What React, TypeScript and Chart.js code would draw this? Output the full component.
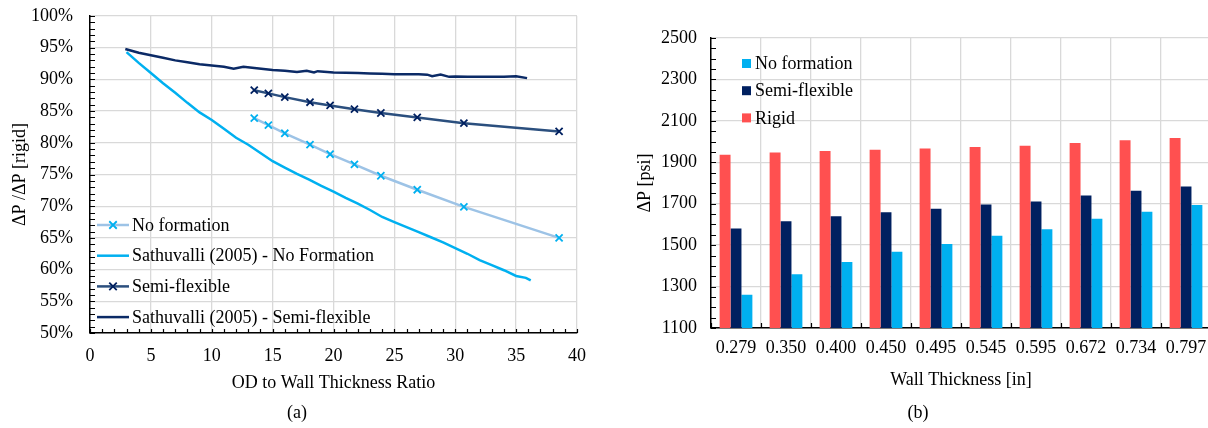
import React, { useEffect, useRef } from "react";
import { Chart, registerables } from "chart.js";

Chart.register(...registerables);

const FONT = '"Liberation Serif", "Times New Roman", serif';

// ---------- Chart (a) data ----------
const odRatio = [13.49, 14.65, 16.0, 18.07, 19.72, 21.72, 23.89, 26.88, 30.71, 38.53];
const noFormationPct = [83.9, 82.8, 81.5, 79.7, 78.2, 76.6, 74.8, 72.6, 69.9, 65.0];
const semiFlexPct = [88.3, 87.8, 87.2, 86.4, 85.9, 85.3, 84.7, 84.0, 83.1, 81.8];

const sathNoFormX = [3.0, 4, 5, 6, 7, 8, 9, 10, 11, 12, 13, 14, 15, 16, 17, 18, 19, 20, 21, 22, 23, 24, 25, 26, 27, 28, 29, 30, 31, 32, 33, 34, 35, 35.8, 36.2];
const sathNoFormY = [94.3, 92.6, 91.0, 89.4, 87.9, 86.3, 84.8, 83.6, 82.2, 80.8, 79.7, 78.4, 77.1, 76.1, 75.1, 74.2, 73.2, 72.3, 71.3, 70.4, 69.4, 68.3, 67.5, 66.7, 65.9, 65.1, 64.3, 63.4, 62.5, 61.5, 60.7, 59.9, 59.0, 58.7, 58.3];

const sathSemiX = [2.9, 4, 5, 6, 7, 8, 9, 10, 11, 11.8, 12.6, 13.5, 15, 16, 17, 17.8, 18.4, 18.7, 20, 21, 22, 23, 24, 25, 26, 27, 27.7, 28.1, 28.8, 29.5, 30, 31, 32, 33, 34, 35, 35.9];
const sathSemiY = [94.8, 94.2, 93.8, 93.4, 93.0, 92.7, 92.4, 92.2, 92.0, 91.7, 92.0, 91.8, 91.5, 91.35, 91.15, 91.35, 91.1, 91.3, 91.1, 91.05, 91.0, 90.95, 90.9, 90.8, 90.8, 90.8, 90.75, 90.5, 90.75, 90.4, 90.45, 90.4, 90.4, 90.4, 90.4, 90.5, 90.2];

const labelsA = [
  "No formation",
  "Sathuvalli (2005) - No Formation",
  "Semi-flexible",
  "Sathuvalli (2005) - Semi-flexible",
];

// ---------- Chart (b) data ----------
const wallThickness = ["0.279", "0.350", "0.400", "0.450", "0.495", "0.545", "0.595", "0.672", "0.734", "0.797"];
const rigidPsi = [1936, 1947, 1954, 1960, 1967, 1974, 1980, 1993, 2006, 2017];
const semiFlexPsi = [1580, 1615, 1639, 1659, 1676, 1696, 1711, 1740, 1763, 1783];
const noFormationPsi = [1260, 1359, 1419, 1468, 1505, 1545, 1577, 1627, 1661, 1694];

const GRID = "#d9d9d9";

function toPoints(xs: number[], ys: number[]) {
  return xs.map((x, i) => ({ x, y: ys[i] }));
}

// Legend drawn inside the plot area
const insideLegend = {
  id: "insideLegend",
  afterDraw(chart: any, _args: any, opts: any) {
    if (!opts || !opts.order) return;
    const ctx = chart.ctx;
    ctx.save();
    ctx.font = `${opts.fontSize}px ${FONT}`;
    ctx.textBaseline = "middle";
    opts.order.forEach((idx: number, i: number) => {
      const ds = chart.data.datasets[idx];
      const y = opts.y + i * opts.rowHeight;
      if (opts.kind === "line") {
        ctx.strokeStyle = ds.borderColor;
        ctx.lineWidth = ds.borderWidth;
        ctx.beginPath();
        ctx.moveTo(opts.x, y);
        ctx.lineTo(opts.x + opts.sampleWidth, y);
        ctx.stroke();
        if (ds.pointRadius > 0) {
          const cx = opts.x + opts.sampleWidth / 2;
          const r = ds.pointRadius * 0.75;
          ctx.strokeStyle = ds.pointBorderColor;
          ctx.lineWidth = ds.pointBorderWidth;
          ctx.beginPath();
          ctx.moveTo(cx - r, y - r);
          ctx.lineTo(cx + r, y + r);
          ctx.moveTo(cx - r, y + r);
          ctx.lineTo(cx + r, y - r);
          ctx.stroke();
        }
        ctx.fillStyle = "#000";
        ctx.fillText(ds.label, opts.x + opts.sampleWidth + opts.gap, y + 1);
      } else {
        ctx.fillStyle = ds.backgroundColor;
        const s = opts.box;
        ctx.fillRect(opts.x, y - s / 2, s, s);
        ctx.fillStyle = "#000";
        ctx.fillText(ds.label, opts.x + s + opts.gap, y + 1);
      }
    });
    ctx.restore();
  },
};

// Inward tick marks (major + minor)
const inwardTicks = {
  id: "inwardTicks",
  afterDraw(chart: any, _args: any, opts: any) {
    if (!opts || !opts.specs) return;
    const ctx = chart.ctx;
    const area = chart.chartArea;
    ctx.save();
    ctx.strokeStyle = "#000";
    ctx.lineWidth = 1.2;
    opts.specs.forEach((spec: any) => {
      const scale = chart.scales[spec.id];
      ctx.beginPath();
      if (spec.categoryBounds) {
        const n = scale.getLabels().length;
        for (let i = 0; i <= n; i++) {
          const x = Math.round(scale.getPixelForValue(i - 0.5)) + 0.5;
          ctx.moveTo(x, area.bottom);
          ctx.lineTo(x, area.bottom - spec.len);
        }
      } else {
        const steps = Math.round((scale.max - scale.min) / spec.step);
        for (let k = 0; k <= steps; k++) {
          const v = scale.min + k * spec.step;
          const p = Math.round(scale.getPixelForValue(v)) + 0.5;
          if (spec.axis === "y") {
            ctx.moveTo(area.left, p);
            ctx.lineTo(area.left + spec.len, p);
          } else {
            ctx.moveTo(p, area.bottom);
            ctx.lineTo(p, area.bottom - spec.len);
          }
        }
      }
      ctx.stroke();
    });
    ctx.restore();
  },
};

export default function App() {
  const refA = useRef<HTMLCanvasElement>(null);
  const refB = useRef<HTMLCanvasElement>(null);

  useEffect(() => {
    const tickFont = { family: FONT, size: 18 };

    const chartA = new Chart(refA.current as HTMLCanvasElement, {
      type: "line",
      data: {
        datasets: [
          {
            label: labelsA[0],
            data: toPoints(odRatio, noFormationPct),
            borderColor: "#9dc3e6",
            borderWidth: 2.5,
            pointStyle: "crossRot",
            pointRadius: 5,
            pointBorderColor: "#00b0f0",
            pointBorderWidth: 1.8,
            tension: 0,
          },
          {
            label: labelsA[1],
            data: toPoints(sathNoFormX, sathNoFormY),
            borderColor: "#00b0f0",
            borderWidth: 2.5,
            pointRadius: 0,
            tension: 0,
          },
          {
            label: labelsA[2],
            data: toPoints(odRatio, semiFlexPct),
            borderColor: "#2b4f7e",
            borderWidth: 2.5,
            pointStyle: "crossRot",
            pointRadius: 5,
            pointBorderColor: "#002060",
            pointBorderWidth: 1.8,
            tension: 0,
          },
          {
            label: labelsA[3],
            data: toPoints(sathSemiX, sathSemiY),
            borderColor: "#0b2a66",
            borderWidth: 2.5,
            pointRadius: 0,
            tension: 0,
          },
        ] as any,
      },
      options: {
        responsive: false,
        animation: false,
        layout: { autoPadding: false, padding: { left: 0, right: 23, top: 16, bottom: 0 } },
        plugins: {
          legend: { display: false },
          tooltip: { enabled: false },
          insideLegend: {
            kind: "line",
            order: [0, 1, 2, 3],
            x: 97,
            y: 225,
            rowHeight: 30.7,
            sampleWidth: 32,
            gap: 3,
            fontSize: 18,
          },
          inwardTicks: {
            specs: [
              { id: "y", axis: "y", step: 1, len: 5 },
              { id: "x", axis: "x", step: 1, len: 4 },
            ],
          },
        } as any,
        scales: {
          x: {
            type: "linear",
            min: 0,
            max: 40,
            ticks: { stepSize: 5, font: tickFont, color: "#000", padding: 12, maxRotation: 0 },
            grid: { color: GRID, lineWidth: 1.3, drawTicks: false },
            border: { color: "#000", width: 1.5 },
            title: {
              display: true,
              text: "OD to Wall Thickness Ratio",
              font: tickFont,
              color: "#000",
              padding: { top: 0, bottom: 34 },
            },
            afterFit: (s: any) => {
              s.height = 95;
            },
          },
          y: {
            type: "linear",
            min: 50,
            max: 100,
            ticks: {
              stepSize: 5,
              font: tickFont,
              color: "#000",
              padding: 17,
              callback: (v: any) => v + "%",
            },
            grid: { color: GRID, lineWidth: 1.3, drawTicks: false },
            border: { color: "#000", width: 1.5 },
            title: {
              display: true,
              text: "ΔP /ΔP [rigid]",
              font: tickFont,
              color: "#000",
              padding: { top: 9, bottom: 0 },
            },
            afterFit: (s: any) => {
              s.width = 90;
              s.paddingTop = 0;
              s.paddingBottom = 0;
            },
          },
        },
      } as any,
      plugins: [insideLegend, inwardTicks],
    });

    const chartB = new Chart(refB.current as HTMLCanvasElement, {
      type: "bar",
      data: {
        labels: wallThickness,
        datasets: [
          { label: "Rigid", data: rigidPsi, backgroundColor: "#ff5050" },
          { label: "Semi-flexible", data: semiFlexPsi, backgroundColor: "#002060" },
          { label: "No formation", data: noFormationPsi, backgroundColor: "#00b0f0" },
        ],
      },
      options: {
        responsive: false,
        animation: false,
        datasets: { bar: { categoryPercentage: 0.655, barPercentage: 1.0 } },
        layout: { autoPadding: false, padding: { left: 0, right: 9, top: 38, bottom: 0 } },
        plugins: {
          legend: { display: false },
          tooltip: { enabled: false },
          insideLegend: {
            kind: "box",
            order: [2, 1, 0],
            x: 142,
            y: 63.5,
            rowHeight: 27.2,
            box: 9,
            gap: 4,
            fontSize: 18,
          },
          inwardTicks: {
            specs: [
              { id: "y", axis: "y", step: 50, len: 5 },
              { id: "x", categoryBounds: true, len: 5 },
            ],
          },
        } as any,
        scales: {
          x: {
            type: "category",
            offset: true,
            ticks: { font: tickFont, color: "#000", padding: 9, autoSkip: false, maxRotation: 0 },
            grid: { color: GRID, lineWidth: 1.3, drawTicks: false, offset: true },
            border: { color: "#000", width: 1.5 },
            title: {
              display: true,
              text: "Wall Thickness [in]",
              font: tickFont,
              color: "#000",
              padding: { top: 0, bottom: 37 },
            },
            afterFit: (s: any) => {
              s.height = 100;
            },
          },
          y: {
            type: "linear",
            min: 1100,
            max: 2500,
            ticks: {
              stepSize: 200,
              font: tickFont,
              color: "#000",
              padding: 14,
              callback: (v: any) => String(v),
            },
            grid: { color: GRID, lineWidth: 1.3, drawTicks: false },
            border: { color: "#000", width: 1.5 },
            title: {
              display: true,
              text: "ΔP [psi]",
              font: tickFont,
              color: "#000",
              padding: { top: 34, bottom: 0 },
            },
            afterFit: (s: any) => {
              s.width = 111;
              s.paddingTop = 0;
              s.paddingBottom = 0;
            },
          },
        },
      } as any,
      plugins: [insideLegend, inwardTicks],
    });

    return () => {
      chartA.destroy();
      chartB.destroy();
    };
  }, []);

  const caption: React.CSSProperties = {
    position: "absolute",
    top: 402,
    width: 200,
    textAlign: "center",
    fontFamily: FONT,
    fontSize: 18,
    lineHeight: "20px",
    color: "#000",
  };

  return (
    <div
      style={{
        position: "fixed",
        left: 0,
        top: 0,
        width: 1208,
        height: 428,
        overflow: "hidden",
        background: "#fff",
      }}
    >
      <canvas
        ref={refA}
        width={600}
        height={428}
        style={{ position: "absolute", left: 0, top: 0, width: 600, height: 428 }}
      />
      <canvas
        ref={refB}
        width={620}
        height={428}
        style={{ position: "absolute", left: 600, top: 0, width: 620, height: 428 }}
      />
      <div style={{ ...caption, left: 197 }}>(a)</div>
      <div style={{ ...caption, left: 818 }}>(b)</div>
    </div>
  );
}
